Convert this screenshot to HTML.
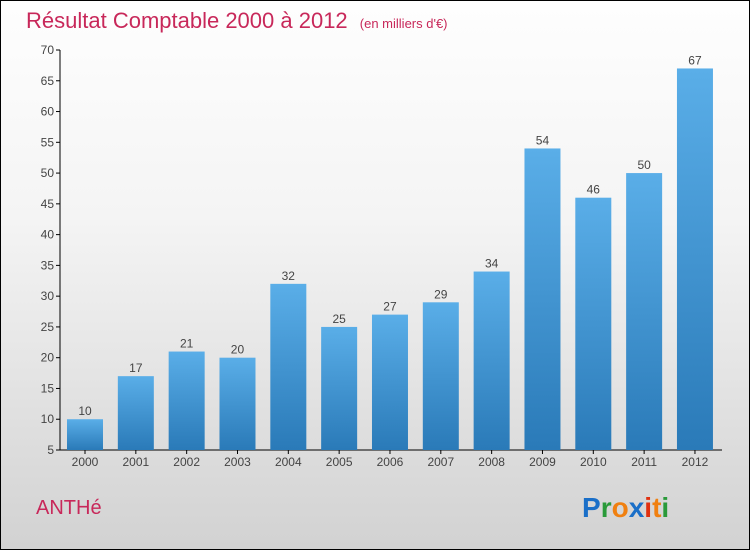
<!DOCTYPE html>
<html><head><meta charset="utf-8"><style>
body{margin:0}
#c{width:750px;height:550px;position:relative;box-sizing:border-box;border:1px solid #000;background:linear-gradient(#fefefe 0%,#f4f4f4 40%,#d2d2d2 100%);font-family:"Liberation Sans",sans-serif;overflow:hidden}
</style></head><body>
<div id="c">
<svg id="s" width="750" height="550" style="position:absolute;left:-1px;top:-1px">
<defs><linearGradient id="g" x1="0" y1="0" x2="0" y2="1"><stop offset="0" stop-color="#5aaee8"/><stop offset="1" stop-color="#2a7ab8"/></linearGradient></defs>
<text x="26" y="28" font-size="22" fill="#c8285a">Résultat Comptable 2000 à 2012 <tspan font-size="13" dx="6">(en milliers d'€)</tspan></text>
<text x="36" y="514" font-size="20" fill="#c8285a">ANTHé</text>
<g font-size="28" font-weight="bold" font-family="'Liberation Sans',sans-serif">
<text x="582" y="517"><tspan fill="#1a6fc8">P</tspan><tspan fill="#2a9a3a">r</tspan><tspan fill="#f08010">o</tspan><tspan fill="#1a6fc8">x</tspan><tspan fill="#e03010">i</tspan><tspan fill="#f08010">t</tspan><tspan fill="#2a9a3a">i</tspan></text></g>
<g id="plot"></g>
</svg>
</div>
<script>
const years=["2000","2001","2002","2003","2004","2005","2006","2007","2008","2009","2010","2011","2012"];
const values=[10,17,21,20,32,25,27,29,34,54,46,50,67];
const ticks=[5,10,15,20,25,30,35,40,45,50,55,60,65,70];
const NS="http://www.w3.org/2000/svg";
const g=document.getElementById('plot');
const y=v=>450-(v-5)*400/65;
const x=i=>85+i*50.83;
function mk(t,a,p){const e=document.createElementNS(NS,t);for(const k in a)e.setAttribute(k,a[k]);(p||g).appendChild(e);return e;}
let ax=mk('line',{x1:60,y1:50,x2:60,y2:450,stroke:'#000'});


let xa=mk('line',{x1:60,y1:450,x2:722,y2:450,stroke:'#000'});


ticks.forEach(t=>{
 mk('line',{x1:56,y1:y(t),x2:60,y2:y(t),stroke:'#000'});
 const tx=mk('text',{x:54,y:y(t)+4,'text-anchor':'end','font-size':12,fill:'#444'});
 tx.textContent=t;
 
 
});
years.forEach((yr,i)=>{
 const cx=x(i);
 const r=mk('rect',{x:cx-18,y:y(values[i]),width:36,height:450-y(values[i]),fill:'url(#g)'});
 
 
 const v=mk('text',{x:cx,y:y(values[i])-4,'text-anchor':'middle','font-size':12,fill:'#444'});
 v.textContent=values[i];
 
 
 mk('line',{x1:cx,y1:450,x2:cx,y2:454,stroke:'#000'});
 const l=mk('text',{x:cx,y:466,'text-anchor':'middle','font-size':12,fill:'#444'});
 l.textContent=yr;
 
 
});
</script>
</body></html>
